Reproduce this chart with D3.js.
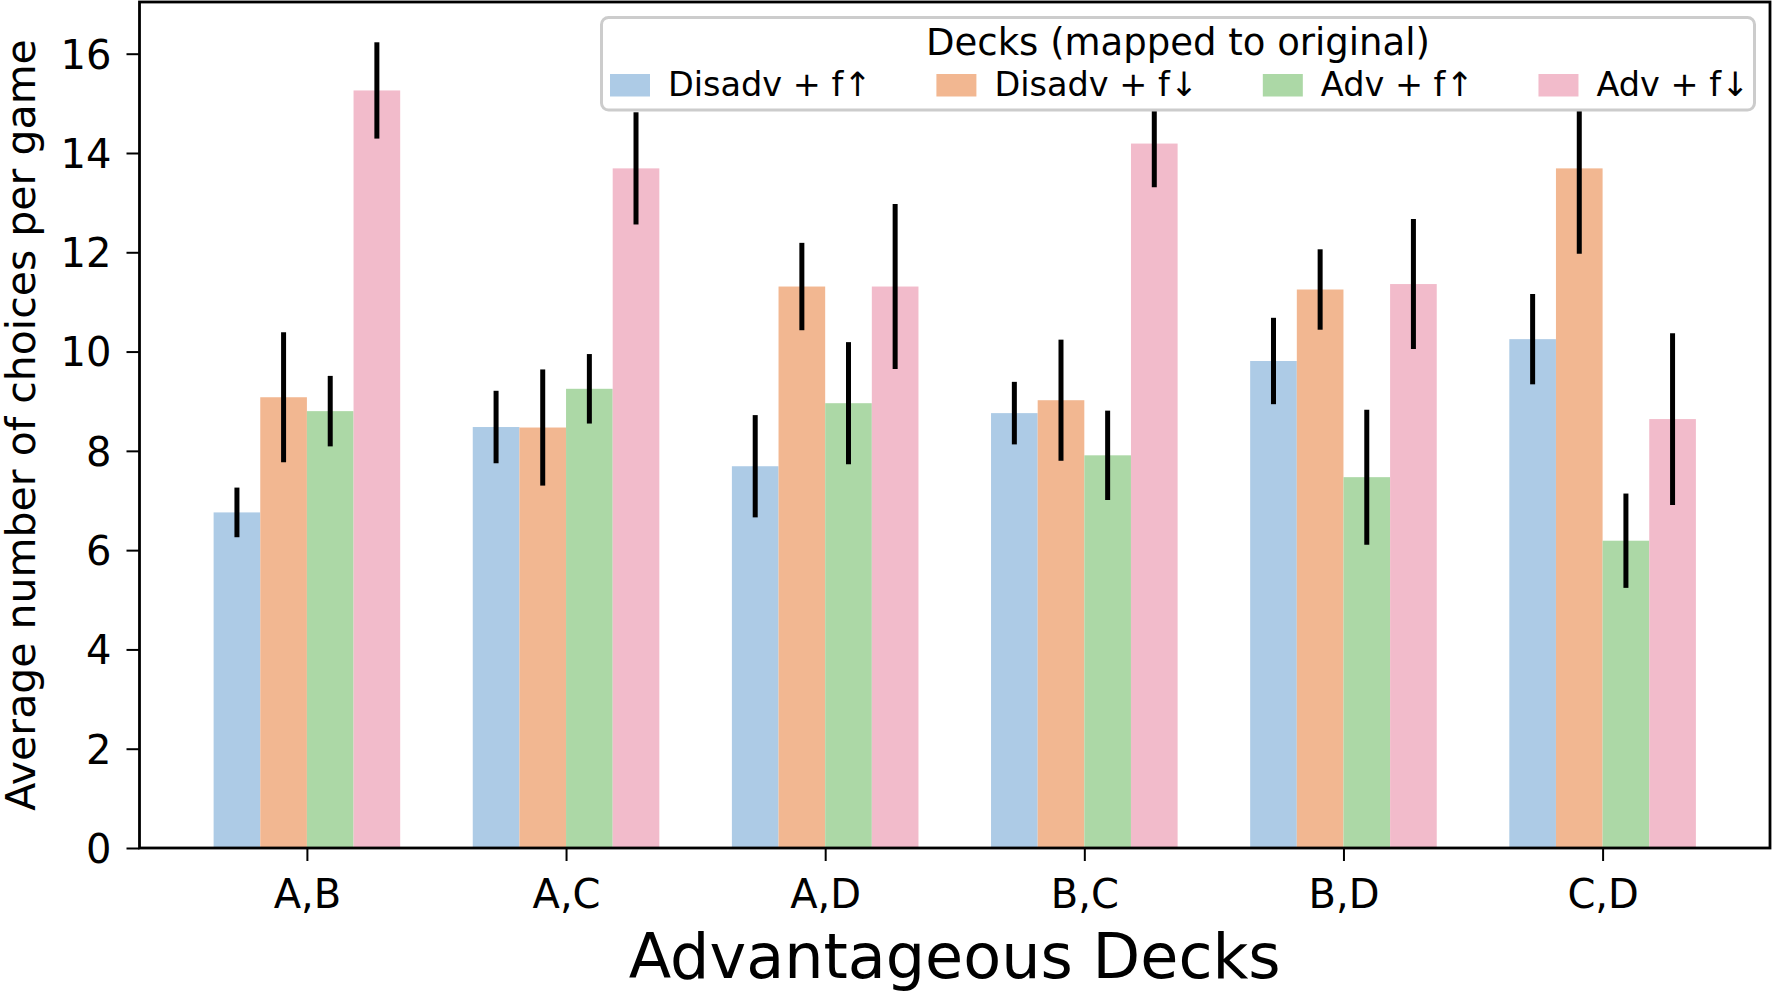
<!DOCTYPE html>
<html lang="en">
<head>
    <meta charset="UTF-8">
    <title>Average number of choices per game</title>
    <script src="https://d3js.org/d3.v7.min.js"></script>
    <style>
        body, html {
            margin: 0;
            padding: 0;
            background: #fff;
            overflow: hidden;
        }
        svg text {
            font-family: "DejaVu Sans", sans-serif;
            fill: #000;
        }
    </style>
</head>
<body>
    <svg id="chart" width="1773" height="995"></svg>

    <script>
        // data
        const categories = ["A,B", "A,C", "A,D", "B,C", "B,D", "C,D"];
        const seriesNames = ["Disadv + f\u2191", "Disadv + f\u2193", "Adv + f\u2191", "Adv + f\u2193"];
        const seriesColors = ["#adcbe6", "#f2b791", "#acd8a6", "#f2bbcb"];

        const disadvUp = [6.76, 8.48, 7.69, 8.76, 9.81, 10.25];
        const disadvDown = [9.08, 8.47, 11.31, 9.02, 11.25, 13.69];
        const advUp = [8.80, 9.25, 8.96, 7.91, 7.47, 6.19];
        const advDown = [15.26, 13.69, 11.31, 14.19, 11.36, 8.64];

        const disadvUpErr = [0.50, 0.73, 1.03, 0.63, 0.87, 0.91];
        const disadvDownErr = [1.31, 1.17, 0.88, 1.22, 0.81, 1.72];
        const advUpErr = [0.71, 0.70, 1.23, 0.90, 1.36, 0.95];
        const advDownErr = [0.97, 1.13, 1.66, 0.88, 1.31, 1.73];

        const yTicks = [0, 2, 4, 6, 8, 10, 12, 14, 16];

        const values = [disadvUp, disadvDown, advUp, advDown];
        const errors = [disadvUpErr, disadvDownErr, advUpErr, advDownErr];

        const svg = d3.select("#chart");
        const plot = {left: 139.5, top: 2, right: 1770, bottom: 848};

        const barW = 0.18;
        const nSeries = seriesNames.length;
        // matplotlib style 5% margins around the data extent
        const xMin = -barW * nSeries / 2, xMax = categories.length - 1 + barW * nSeries / 2;
        const xPad = (xMax - xMin) * 0.05;
        const x = d3.scaleLinear().domain([xMin - xPad, xMax + xPad]).range([plot.left, plot.right]);

        const topVal = d3.max(values.flatMap((s, j) => s.map((v, i) => v + errors[j][i])));
        const y = d3.scaleLinear().domain([0, topVal * 1.05]).range([plot.bottom, plot.top]);

        const rows = [];
        values.forEach((s, j) => s.forEach((v, i) => {
            rows.push({cat: i, series: j, value: v, err: errors[j][i],
                       pos: i + (j - (nSeries - 1) / 2) * barW});
        }));

        // bars
        svg.append("g").selectAll("rect")
            .data(rows)
            .enter().append("rect")
            .attr("x", d => x(d.pos - barW / 2))
            .attr("width", x(barW) - x(0))
            .attr("y", d => y(d.value))
            .attr("height", d => y(0) - y(d.value))
            .attr("fill", d => seriesColors[d.series]);

        // error bars
        svg.append("g").selectAll("line")
            .data(rows)
            .enter().append("line")
            .attr("x1", d => x(d.pos))
            .attr("x2", d => x(d.pos))
            .attr("y1", d => y(d.value - d.err))
            .attr("y2", d => y(d.value + d.err))
            .attr("stroke", "#000")
            .attr("stroke-width", 5);

        // axes
        const yAxis = svg.append("g")
            .attr("transform", `translate(${plot.left},0)`)
            .call(d3.axisLeft(y).tickValues(yTicks).tickSize(13).tickPadding(15));
        yAxis.select(".domain").remove();
        yAxis.selectAll("line").attr("stroke", "#000").attr("stroke-width", 2);
        yAxis.selectAll("text").style("font-size", "40px").attr("dy", "0.36em");

        const xAxis = svg.append("g")
            .attr("transform", `translate(0,${plot.bottom})`)
            .call(d3.axisBottom(x).tickValues(d3.range(categories.length))
                .tickFormat(i => categories[i]).tickSize(13).tickPadding(19));
        xAxis.select(".domain").remove();
        xAxis.selectAll("line").attr("stroke", "#000").attr("stroke-width", 2);
        xAxis.selectAll("text").style("font-size", "40px");

        // frame
        svg.append("rect")
            .attr("x", plot.left)
            .attr("y", plot.top)
            .attr("width", plot.right - plot.left)
            .attr("height", plot.bottom - plot.top)
            .attr("fill", "none")
            .attr("stroke", "#000")
            .attr("stroke-width", 2.8);

        // axis titles
        svg.append("text")
            .attr("x", (plot.left + plot.right) / 2)
            .attr("y", 978)
            .attr("text-anchor", "middle")
            .style("font-size", "62px")
            .text("Advantageous Decks");

        svg.append("text")
            .attr("transform", `translate(35,${(plot.top + plot.bottom) / 2}) rotate(-90)`)
            .attr("text-anchor", "middle")
            .style("font-size", "41px")
            .text("Average number of choices per game");

        // legend
        const legend = svg.append("g");
        legend.append("rect")
            .attr("x", 601.5)
            .attr("y", 17.5)
            .attr("width", 1153)
            .attr("height", 92.5)
            .attr("rx", 7)
            .attr("fill", "#fff")
            .attr("stroke", "#cccccc")
            .attr("stroke-width", 3);

        legend.append("text")
            .attr("x", 601.5 + 1153 / 2)
            .attr("y", 55)
            .attr("text-anchor", "middle")
            .style("font-size", "37px")
            .text("Decks (mapped to original)");

        let lx = 610;
        seriesNames.forEach((name, j) => {
            legend.append("rect")
                .attr("x", lx)
                .attr("y", 74)
                .attr("width", 40)
                .attr("height", 22.5)
                .attr("fill", seriesColors[j]);
            const t = legend.append("text")
                .attr("x", lx + 58)
                .attr("y", 96)
                .style("font-size", "33.5px")
                .text(name);
            lx += 58 + t.node().getComputedTextLength() + 65;
        });
    </script>
</body>
</html>
